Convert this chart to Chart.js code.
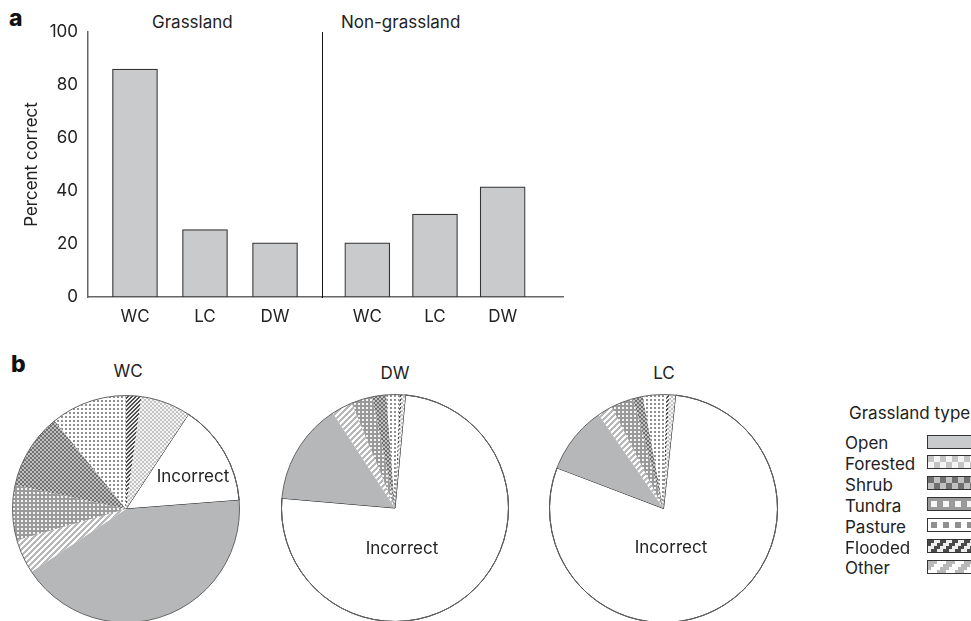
<!DOCTYPE html>
<html>
<head>
<meta charset="utf-8">
<script src="https://cdn.jsdelivr.net/npm/chart.js@4.4.1/dist/chart.umd.min.js"></script>
<style>
  body { margin: 0; width: 971px; height: 621px; overflow: hidden; background: #fff; position: relative;
         font-family: Inter, "Noto Sans", sans-serif; color: #222; }
  .box { position: absolute; }
  .t { position: absolute; font-size: 17px; line-height: 1; white-space: nowrap; }
  .c { transform: translateX(-50%); }
  .panel { font-weight: 800; font-size: 23px; color: #111; }
  .sw { position: absolute; left: 927px; width: 48px; height: 12px; border: 1.5px solid #333; }
</style>
</head>
<body>
<div class="t panel" style="left:9px;top:7px">a</div>
<div class="t panel" style="left:11px;top:353px">b</div>
<div class="t" style="left:152px;top:13.5px">Grassland</div>
<div class="t" style="left:341px;top:13.5px">Non-grassland</div>

<div class="box" style="left:0;top:0;width:322px;height:330px"><canvas id="barGrass"></canvas></div>
<div class="box" style="left:312px;top:0;width:252px;height:330px"><canvas id="barNon"></canvas></div>

<div class="t c" style="left:128px;top:362.5px">WC</div>
<div class="t c" style="left:395px;top:364.5px">DW</div>
<div class="t c" style="left:664px;top:364.5px">LC</div>

<div class="box" style="left:12px;top:395px;width:228px;height:228px"><canvas id="pieWC"></canvas></div>
<div class="box" style="left:281px;top:394px;width:228px;height:228px"><canvas id="pieDW"></canvas></div>
<div class="box" style="left:549px;top:394px;width:229px;height:229px"><canvas id="pieLC"></canvas></div>

<div class="t c" style="left:193px;top:468px">Incorrect</div>
<div class="t c" style="left:402px;top:540px">Incorrect</div>
<div class="t c" style="left:671px;top:538.5px">Incorrect</div>

<div class="t" style="left:849px;top:405px">Grassland type</div>
<div id="legend"></div>

<script>
// panel a
const groups = ['WC', 'LC', 'DW'];
const grassland = [86, 25.4, 20.4];
const nonGrassland = [20.4, 31.3, 41.6];
const yTicks = [0, 20, 40, 60, 80, 100];

// panel b, slices clockwise from the start of "Incorrect"
const sliceLabels = ['Incorrect', 'Open', 'Other', 'Tundra', 'Shrub', 'Pasture', 'Flooded', 'Forested'];
const wcShares = [14.5, 41.9, 4.9, 7.8, 10.8, 10.8, 2.2, 7.1];
const dwShares = [74.9, 14.4, 3.0, 3.0, 2.0, 1.9, 0.3, 0.5];
const lcShares = [79.1, 9.6, 2.1, 3.2, 1.4, 3.3, 0.4, 0.9];
const grasslandTypes = ['Open', 'Forested', 'Shrub', 'Tundra', 'Pasture', 'Flooded', 'Other'];

Chart.defaults.font.family = 'Inter, "Noto Sans", sans-serif';
Chart.defaults.color = '#222';

function stripeRows(n, w) {
  const rows = [];
  for (let y = 0; y < n; y++) {
    let r = '';
    for (let x = 0; x < n; x++) r += (x + y) % n < w ? 'x' : '.';
    rows.push(r);
  }
  return rows;
}

const tiles = {
  Forested: { px: ['xx..', 'xx..', '..xx', '..xx'], on: '#c4c4c4', off: '#f5f5f5' },
  Shrub:    { px: ['xx..', 'xx..', '..xx', '..xx'], on: '#707070', off: '#c2c2c2' },
  Tundra:   { px: ['xxxx', 'x..x', 'x..x', 'xxxx'], on: '#9a9a9a', off: '#f5f5f5' },
  Pasture:  { px: ['....', '.xx.', '.xx.', '....'], on: '#909090', off: '#ffffff' },
  Flooded:  { px: stripeRows(4, 2), on: '#4a4a4a', off: '#eeeeee' },
  Other:    { px: stripeRows(6, 3), on: '#b8b8b8', off: '#ffffff' }
};

function makePattern(tile, s) {
  const n = tile.px.length;
  const c = document.createElement('canvas');
  c.width = c.height = n * s;
  const g = c.getContext('2d');
  tile.px.forEach((row, y) => [...row].forEach((ch, x) => {
    g.fillStyle = ch === 'x' ? tile.on : tile.off;
    g.fillRect(x * s, y * s, s, s);
  }));
  return g.createPattern(c, 'repeat');
}

const pieFills = { Incorrect: '#ffffff', Open: '#b6b7b9' };
Object.keys(tiles).forEach(k => { pieFills[k] = makePattern(tiles[k], 1); });

function barChart(id, values, xMin, xMax, withAxis) {
  return new Chart(document.getElementById(id), {
    type: 'bar',
    data: {
      datasets: [{
        data: values.map((v, i) => ({ x: i, y: v })),
        backgroundColor: '#c9cacc',
        borderColor: '#333',
        borderWidth: 1.2,
        borderSkipped: false,
        barThickness: 45
      }]
    },
    options: {
      responsive: true,
      maintainAspectRatio: false,
      animation: false,
      events: [],
      layout: { padding: { top: 32, left: 0, right: 0, bottom: 0 } },
      plugins: { legend: { display: false }, tooltip: { enabled: false } },
      scales: {
        x: {
          type: 'linear',
          offset: false,
          min: xMin,
          max: xMax,
          grid: { display: false, drawTicks: false },
          border: { color: '#666', width: 1.5 },
          afterBuildTicks: s => { s.ticks = groups.map((g, i) => ({ value: i })); },
          afterFit: s => { s.height = 33; },
          ticks: { callback: v => groups[v], padding: 10, font: { size: 17 }, autoSkip: false, maxRotation: 0 }
        },
        y: {
          min: 0,
          max: 100,
          grid: { display: false, drawTicks: false },
          border: withAxis ? { color: '#666', width: 1.5 } : { color: '#111', width: 1 },
          afterBuildTicks: s => { s.ticks = yTicks.map(v => ({ value: v })); },
          afterFit: s => { s.width = withAxis ? 88 : 10; },
          ticks: { display: withAxis, padding: 10, font: { size: 17 } },
          title: { display: withAxis, text: 'Percent correct', font: { size: 17 }, padding: { top: 22 } }
        }
      }
    }
  });
}

barChart('barGrass', grassland, -0.671, 2.671, true);
barChart('barNon', nonGrassland, -0.669, 2.906, false);

const outline = {
  id: 'outline',
  afterDatasetsDraw(chart) {
    const arc = chart.getDatasetMeta(0).data[0];
    const ctx = chart.ctx;
    ctx.save();
    ctx.beginPath();
    ctx.arc(arc.x, arc.y, arc.outerRadius, 0, Math.PI * 2);
    ctx.strokeStyle = '#666';
    ctx.lineWidth = 1;
    ctx.stroke();
    ctx.restore();
  }
};

function pieChart(id, shares, rotation) {
  return new Chart(document.getElementById(id), {
    type: 'pie',
    data: {
      labels: sliceLabels,
      datasets: [{
        data: shares,
        backgroundColor: sliceLabels.map(l => pieFills[l]),
        borderColor: '#111',
        borderWidth: sliceLabels.map(l => l === 'Incorrect' ? 1 : 0)
      }]
    },
    options: {
      responsive: true,
      maintainAspectRatio: false,
      animation: false,
      events: [],
      rotation: rotation,
      plugins: { legend: { display: false }, tooltip: { enabled: false } }
    },
    plugins: [outline]
  });
}

pieChart('pieWC', wcShares, 33.4);
pieChart('pieDW', dwShares, 5.3);
pieChart('pieLC', lcShares, 6.1);

// legend: label on the left, swatch on the right
const legend = document.getElementById('legend');
grasslandTypes.forEach((t, i) => {
  const top = 435 + i * 20.9;
  const label = document.createElement('div');
  label.className = 't';
  label.style.left = '845px';
  label.style.top = top + 'px';
  label.textContent = t;
  legend.appendChild(label);

  const sw = document.createElement('canvas');
  sw.className = 'sw';
  sw.width = 48;
  sw.height = 12;
  sw.style.top = (top - 0.5) + 'px';
  const g = sw.getContext('2d');
  g.fillStyle = t === 'Open' ? '#c9cacc' : makePattern(tiles[t], 3);
  g.fillRect(0, 0, 48, 12);
  legend.appendChild(sw);
});
</script>
</body>
</html>
